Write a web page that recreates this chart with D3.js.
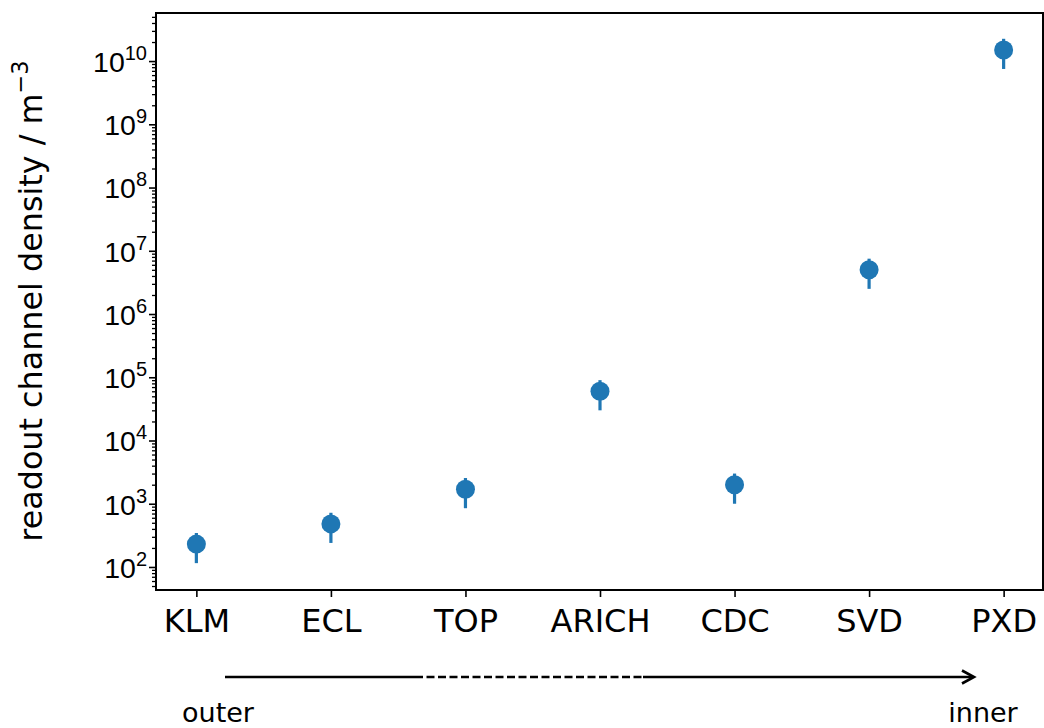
<!DOCTYPE html>
<html>
<head>
<meta charset="utf-8">
<script src="https://cdn.jsdelivr.net/npm/d3@7"></script>
<style>
  html, body { margin: 0; padding: 0; background: #fff; }
  svg { display: block; font-family: "DejaVu Sans", sans-serif; }
</style>
</head>
<body>
<svg id="chart" width="1044" height="728"></svg>
<script>
// Detector subsystems, ordered from the outside of the detector inwards
const detectors = ["KLM", "ECL", "TOP", "ARICH", "CDC", "SVD", "PXD"];
// Readout channel density per subsystem (channels per cubic metre)
const density = [230, 480, 1700, 60000, 2000, 5e6, 1.5e10];
// Lower and upper bounds of the uncertainty band
const densityLow = [115, 240, 850, 30000, 1000, 2.5e6, 7.5e9];
const densityHigh = [345, 720, 2550, 90000, 3000, 7.5e6, 2.25e10];
// Decades labelled on the log axis
const yExponents = [2, 3, 4, 5, 6, 7, 8, 9, 10];

const svg = d3.select("#chart");
const blue = "#1f77b4";

const plot = { left: 156, right: 1044, top: 13, bottom: 590 };

const x = d3.scaleLinear()
  .domain([-0.3, detectors.length - 1 + 0.3])
  .range([plot.left, plot.right]);

const y = d3.scaleLog()
  .domain([Math.pow(10, 1.636), Math.pow(10, 10.76)])
  .range([plot.bottom, plot.top]);

// Y axis: major ticks with power-of-ten labels, minor ticks in between
const yAxis = d3.axisLeft(y)
  .tickValues(yExponents.map(e => Math.pow(10, e)))
  .tickSize(7)
  .tickFormat(() => "");

const minorVals = [];
for (let e = 1; e <= 10; e++) {
  for (let m = 2; m <= 9; m++) {
    const v = m * Math.pow(10, e);
    if (v >= y.domain()[0] && v <= y.domain()[1]) minorVals.push(v);
  }
}
const yMinor = d3.axisLeft(y).tickValues(minorVals).tickSize(4).tickFormat(() => "");

const gyMinor = svg.append("g").attr("transform", `translate(${plot.left},0)`).call(yMinor);
gyMinor.select(".domain").remove();
gyMinor.selectAll(".tick line").attr("stroke", "#000").attr("stroke-width", 1.3);

const gy = svg.append("g").attr("transform", `translate(${plot.left},0)`).call(yAxis);
gy.select(".domain").remove();
gy.selectAll(".tick line").attr("stroke", "#000").attr("stroke-width", 1.6);
gy.selectAll(".tick text").remove();
gy.selectAll(".tick").each(function (d) {
  const t = d3.select(this).append("text")
    .attr("x", -9)
    .attr("dy", "0.36em")
    .attr("text-anchor", "end")
    .attr("fill", "#000")
    .attr("font-size", 28.5);
  t.append("tspan").text("10");
  t.append("tspan")
    .attr("font-size", 20)
    .attr("dy", "-0.6em")
    .text(String(Math.round(Math.log10(d))));
});

// X axis with category labels
const xAxis = d3.axisBottom(x)
  .tickValues(detectors.map((d, i) => i))
  .tickSize(7)
  .tickPadding(12)
  .tickFormat(i => detectors[i]);
const gx = svg.append("g").attr("transform", `translate(0,${plot.bottom})`).call(xAxis);
gx.select(".domain").remove();
gx.selectAll(".tick line").attr("stroke", "#000").attr("stroke-width", 1.6);
gx.selectAll(".tick text").attr("fill", "#000").attr("font-size", 32)
  .attr("font-family", "DejaVu Sans, sans-serif");

// Frame
svg.append("rect")
  .attr("x", plot.left).attr("y", plot.top)
  .attr("width", plot.right - plot.left - 1).attr("height", plot.bottom - plot.top)
  .attr("fill", "none").attr("stroke", "#000").attr("stroke-width", 2);

// Error bars
svg.append("g").selectAll("line")
  .data(detectors)
  .join("line")
  .attr("x1", (d, i) => x(i)).attr("x2", (d, i) => x(i))
  .attr("y1", (d, i) => y(densityLow[i]))
  .attr("y2", (d, i) => y(densityHigh[i]))
  .attr("stroke", blue).attr("stroke-width", 3.2);

// Points
svg.append("g").selectAll("circle")
  .data(detectors)
  .join("circle")
  .attr("cx", (d, i) => x(i))
  .attr("cy", (d, i) => y(density[i]))
  .attr("r", 9.5)
  .attr("fill", blue);

// Y axis title
svg.append("text")
  .attr("transform", "translate(42,301) rotate(-90)")
  .attr("text-anchor", "middle")
  .attr("font-size", 31.8)
  .attr("fill", "#000")
  .call(t => {
    t.append("tspan").text("readout channel density / m");
    t.append("tspan").attr("font-size", 22.5).attr("dy", "-0.62em").text("\u22123");
  });

// Direction arrow below the axis: outer -> inner
const arrowY = 677;
const arrow = svg.append("g").attr("stroke", "#000").attr("stroke-width", 2.6).attr("fill", "none");
arrow.append("line").attr("x1", 225).attr("x2", 415).attr("y1", arrowY).attr("y2", arrowY);
arrow.append("line").attr("x1", 415).attr("x2", 643).attr("y1", arrowY).attr("y2", arrowY)
  .attr("stroke-dasharray", "8,3.5");
arrow.append("line").attr("x1", 643).attr("x2", 973).attr("y1", arrowY).attr("y2", arrowY);
arrow.append("path")
  .attr("d", `M${962},${arrowY - 6.5} L${974},${arrowY} L${962},${arrowY + 6.5}`)
  .attr("stroke-linejoin", "miter");

svg.append("text").attr("x", 218).attr("y", 722).attr("text-anchor", "middle")
  .attr("font-size", 27).attr("fill", "#000").text("outer");
svg.append("text").attr("x", 983).attr("y", 722).attr("text-anchor", "middle")
  .attr("font-size", 27).attr("fill", "#000").text("inner");
</script>
</body>
</html>
